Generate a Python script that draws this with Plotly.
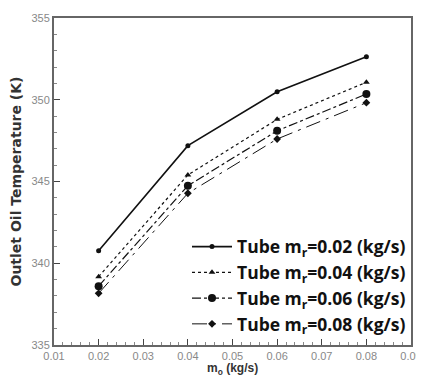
import plotly.graph_objects as go

x_flow = [0.02, 0.04, 0.06, 0.08]
t_002 = [340.77, 347.19, 350.49, 352.63]
t_004 = [339.18, 345.4, 348.8, 351.07]
t_006 = [338.6, 344.74, 348.1, 350.35]
t_008 = [338.16, 344.28, 347.6, 349.82]
names = ["Tube m<sub>r</sub>=0.02 (kg/s)", "Tube m<sub>r</sub>=0.04 (kg/s)",
         "Tube m<sub>r</sub>=0.06 (kg/s)", "Tube m<sub>r</sub>=0.08 (kg/s)"]
x_title = "m<sub>o</sub> (kg/s)"

styles = [
    dict(dash="solid", width=1.6, symbol="circle", size=5),
    dict(dash="3px,3px", width=1.2, symbol="triangle-up", size=6),
    dict(dash="dashdot", width=1.2, symbol="circle", size=8),
    dict(dash="longdashdot", width=1.0, symbol="diamond", size=6),
]

fig = go.Figure()
for i, (ys, nm) in enumerate(zip([t_002, t_004, t_006, t_008], names)):
    s = styles[i]
    fig.add_trace(go.Scatter(
        x=x_flow, y=ys, name=nm, mode="lines+markers", legendgroup=f"g{i}",
        line=dict(color="#111111", width=s["width"], dash=s["dash"]),
        marker=dict(color="#111111", symbol=s["symbol"], size=s["size"]),
    ))

axis_common = dict(
    showline=True, linecolor="#666666", linewidth=2, mirror=True,
    ticks="inside", ticklen=6, tickcolor="#444444", tickwidth=1,
    showgrid=False, zeroline=False, automargin=False,
    tickfont=dict(family="Liberation Sans", size=11, color="#888888"),
)

fig.update_xaxes(
    range=[0.01, 0.09], dtick=0.01, tick0=0.01, tickformat=".2f",
    minor=dict(ticks="inside", ticklen=3, dtick=0.002, tickcolor="#888888"),
    **axis_common,
)
fig.update_yaxes(
    range=[335, 355], dtick=5, tick0=335,
    minor=dict(ticks="inside", ticklen=3, dtick=1, tickcolor="#888888"),
    title=dict(text="Outlet Oil Temperature (K)", standoff=8,
               font=dict(family="DejaVu Sans", size=14, color="#333333", weight="bold")),
    **axis_common,
)

fig.add_annotation(
    text=x_title, xref="paper", yref="paper", x=0.5, y=0,
    xanchor="center", yanchor="top", yshift=-14, showarrow=False,
    font=dict(family="Liberation Sans", size=12, color="#333333", weight="bold"),
)

fig.update_layout(
    width=424, height=378,
    margin=dict(l=46, r=21, t=10, b=41, autoexpand=False),
    plot_bgcolor="white", paper_bgcolor="white",
    legend=dict(
        x=1.0, y=0.01, xanchor="right", yanchor="bottom",
        bgcolor="rgba(255,255,255,0)", tracegroupgap=0,
        font=dict(family="Open Sans", size=17.5, color="#111111", weight="bold"),
        itemwidth=40,
    ),
)

fig.write_html("out.html")
